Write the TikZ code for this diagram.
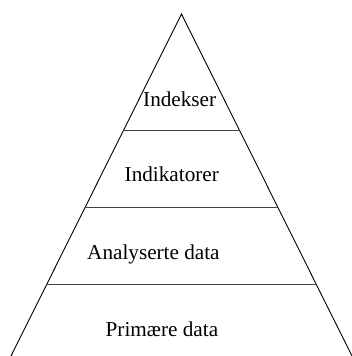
\documentclass[tikz,border=0pt]{standalone}
\usepackage{fontspec}
\setmainfont{Liberation Serif}
\usetikzlibrary{calc}
\begin{document}
\begin{tikzpicture}[x=1pt,y=-1pt,
  side/.style={line width=0.9pt,black},
  tier/.style={line width=1.2pt,black!75},
  lbl/.style={inner sep=0pt,anchor=base west,font=\fontsize{21.2}{24}\selectfont}]
\useasboundingbox (0,0) rectangle (351,356);
\coordinate (apex) at (181.5,14);
\coordinate (bl) at (10.5,357);
\coordinate (br) at (352.5,357);
\draw[side] (bl) -- (apex) -- (br);
\foreach \t/\n in {0.3392/a,0.5643/b,0.7895/c}{
  \coordinate (l\n) at ($(apex)!\t!(bl)$);
  \coordinate (r\n) at ($(apex)!\t!(br)$);
}
\draw[tier] (la) -- (ra);
\draw[tier] (lb) -- (rb);
\draw[tier] (lc) -- (rc);
\node[lbl] (t1) at (143,106) {Indekser};
\node[lbl] (t2) at (124.5,181.7) {Indikatorer};
\node[lbl] (t3) at (87,259.3) {Analyserte data};
\node[lbl] (t4) at (105.5,336) {Primære data};
\end{tikzpicture}
\end{document}
